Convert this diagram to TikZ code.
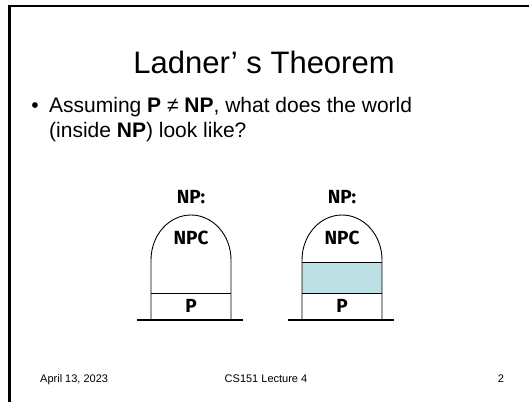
\documentclass[tikz,border=0pt]{standalone}
\usepackage{fontspec}
\setmainfont{Liberation Sans}
\newfontfamily\labfont{Fira Sans}
\definecolor{ladnercyan}{HTML}{BCE0E3}
\tikzset{
  frameline/.style={line width=2.4pt, line cap=rect},
  shapeline/.style={line width=0.9pt},
  baseline/.style={line width=2.6pt},
  titletext/.style={font=\fontsize{31}{36}\selectfont, inner sep=0pt},
  bodytext/.style={font=\fontsize{21}{24}\selectfont, inner sep=0pt, anchor=base west},
  foottext/.style={font=\fontsize{11}{14}\selectfont, inner sep=0pt, anchor=base},
  labtext/.style={font=\labfont\bfseries\fontsize{19}{22}\selectfont, inner sep=0pt}
}
\begin{document}
\begin{tikzpicture}[x=1pt,y=-1pt]
\useasboundingbox (0,0) rectangle (529,401);
% frame
\draw[frameline] (529,6) -- (9.5,6) -- (9.5,401);
% title
\node[titletext] (title) at (264,62) {Ladner’ s Theorem};
% bullet
\node[bodytext, anchor=base] (bullet) at (35,113) {•};
\node[bodytext] (line1) at (49,113) {Assuming \textbf{P} ≠ \textbf{NP}, what does the world};
\node[bodytext] (line2) at (49,137) {(inside \textbf{NP}) look like?};
% left diagram
\draw[shapeline] (151,320) -- (151,260) arc[start angle=180, end angle=0, x radius=40pt, y radius=45pt] -- (231,320);
\draw[shapeline] (151,293) -- (231,293);
\draw[baseline] (137,320) -- (243,320);
\node[labtext] (np1) at (191,197) {NP:};
\node[labtext] (npc1) at (191,238) {NPC};
\node[labtext] (p1) at (191,306) {P};
% right diagram
\fill[ladnercyan] (302,262) rectangle (382,293);
\draw[shapeline] (302,320) -- (302,260) arc[start angle=180, end angle=0, x radius=40pt, y radius=45pt] -- (382,320);
\draw[shapeline] (302,262) -- (382,262);
\draw[shapeline] (302,293) -- (382,293);
\draw[baseline] (288,320) -- (394,320);
\node[labtext] (np2) at (342,197) {NP:};
\node[labtext] (npc2) at (342,238) {NPC};
\node[labtext] (p2) at (342,306) {P};
% footer
\node[foottext, anchor=base west] (date) at (40,382) {April 13, 2023};
\node[foottext] (course) at (266,382) {CS151 Lecture 4};
\node[foottext] (page) at (501,382) {2};
\end{tikzpicture}
\end{document}
